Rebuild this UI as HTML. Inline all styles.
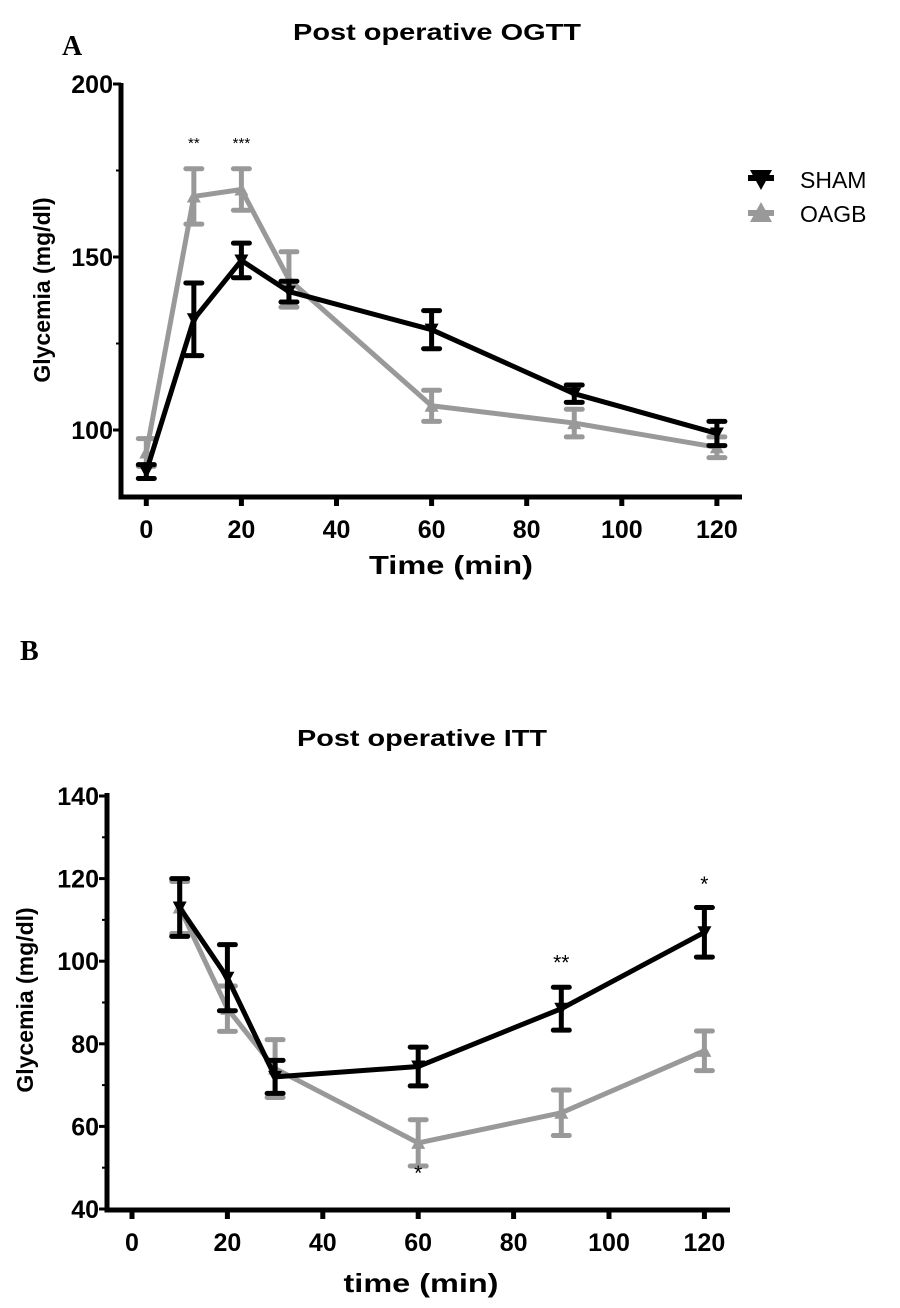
<!DOCTYPE html>
<html><head><meta charset="utf-8"><style>
body{margin:0;background:#fff;}
svg{display:block;font-family:"Liberation Sans",Arial,sans-serif;}
.tk{font-size:25px;font-weight:bold;text-anchor:middle;}
</style></head><body>
<svg id="s" width="900" height="1308" viewBox="0 0 900 1308">
<text x="62" y="55" font-family="Liberation Serif,serif" font-weight="bold" font-size="28">A</text>
<text x="437" y="40" text-anchor="middle" font-weight="bold" font-size="23" textLength="288" lengthAdjust="spacingAndGlyphs">Post operative OGTT</text>
<text x="20" y="660" font-family="Liberation Serif,serif" font-weight="bold" font-size="28">B</text>
<text x="422" y="746" text-anchor="middle" font-weight="bold" font-size="23" textLength="250" lengthAdjust="spacingAndGlyphs">Post operative ITT</text>
<text transform="translate(50,290) rotate(-90)" text-anchor="middle" font-weight="bold" font-size="23">Glycemia (mg/dl)</text>
<text transform="translate(33,1000) rotate(-90)" text-anchor="middle" font-weight="bold" font-size="23">Glycemia (mg/dl)</text>
<text x="451" y="574" text-anchor="middle" font-weight="bold" font-size="26" textLength="164" lengthAdjust="spacingAndGlyphs">Time (min)</text>
<text x="421" y="1292" text-anchor="middle" font-weight="bold" font-size="26" textLength="155" lengthAdjust="spacingAndGlyphs">time (min)</text>
<g>
<polygon points="750,170 772,170 761,190" fill="#000"/>
<line x1="748" y1="178" x2="774" y2="178" stroke="#000" stroke-width="6"/>
<text x="800" y="188" font-size="23">SHAM</text>
<polygon points="750,222 772,222 761,202" fill="#999"/>
<line x1="748" y1="213" x2="774" y2="213" stroke="#999" stroke-width="6"/>
<text x="800" y="222" font-size="23">OAGB</text>
</g>
</svg>
<script>
const xA=[0,10,20,30,60,90,120];
const shamA=[88,132,149,140,129,110.5,99];
const shamAerr=[2,10.5,5,3,5.5,2.5,3.5];
const oagbA=[93.5,167.5,169.5,143.5,107,102,95];
const oagbAerr=[4,8,6,8,4.5,4,3];
const yTicksA=[100,150,200];
const xTicks=[0,20,40,60,80,100,120];
const xB=[10,20,30,60,90,120];
const shamB=[113,96,72,74.5,88.5,107];
const shamBerr=[7,8,4,4.7,5.2,6];
const oagbB=[113,88.5,74,56,63.3,78.3];
const oagbBerr=[6.3,5.5,7,5.6,5.5,4.8];
const yTicksB=[40,60,80,100,120,140];
const starsA=[{x:10,t:"**"},{x:20,t:"***"}];
const starsB=[{x:120,v:117,t:"*"},{x:90,v:98,t:"**"},{x:60,v:47,t:"*"}];

const S=document.getElementById('s'),NS="http://www.w3.org/2000/svg";
function mk(t,a,p){const e=document.createElementNS(NS,t);for(const k in a)e.setAttribute(k,a[k]);(p||S).appendChild(e);return e;}

function panel(o){
  const g=mk('g',{});
  
  
  const X=v=>o.x0+(v-0)*o.sx, Y=v=>o.y0-(v-o.ymin)*o.sy;
  const ax=mk('path',{d:`M${o.axX},${o.yTop} V${o.axY} H${o.axR}`,fill:'none',stroke:'#000','stroke-width':5},g);
  
  
  o.yt.forEach((v,i)=>{
    mk('line',{x1:o.axX-8,x2:o.axX,y1:Y(v),y2:Y(v),stroke:'#000','stroke-width':3},g);
    if(i<o.yt.length-1){const m=(v+o.yt[i+1])/2;mk('line',{x1:o.axX-5,x2:o.axX,y1:Y(m),y2:Y(m),stroke:'#000','stroke-width':2},g);}
    const t=mk('text',{x:o.axX-8,y:Y(v)+9,'class':'tk'},g);t.style.textAnchor='end';t.textContent=v;
    
    
  });
  xTicks.forEach(v=>{
    mk('line',{x1:X(v),x2:X(v),y1:o.axY,y2:o.axY+9,stroke:'#000','stroke-width':5},g);
    const t=mk('text',{x:X(v),y:o.axY+41,'class':'tk'},g);t.textContent=v;
    
    
  });
  o.series.forEach(s=>{
    const sg=mk('g',{},g);
    
    
    s.v.forEach((v,i)=>{
      const x=X(s.x[i]),t=Y(v+s.e[i]),b=Y(v-s.e[i]);
      mk('path',{d:`M${x},${t}V${b}M${x-8},${t}H${x+8}M${x-8},${b}H${x+8}`,stroke:s.c,'stroke-width':5,fill:'none','stroke-linecap':'round'},sg);
    });
    const ln=mk('polyline',{points:s.v.map((v,i)=>X(s.x[i])+','+Y(v)).join(' '),fill:'none',stroke:s.c,'stroke-width':5,'stroke-linejoin':'round'},sg);
    
    
    s.v.forEach((v,i)=>{
      const x=X(s.x[i]),y=Y(v);
      const pts=s.down?`${x-7},${y-6} ${x+7},${y-6} ${x},${y+7}`:`${x-7},${y+6} ${x+7},${y+6} ${x},${y-7}`;
      const p=mk('polygon',{points:pts,fill:s.c},sg);
      
      
    });
  });
  o.stars.forEach(st=>{
    const t=mk('text',{x:X(st.x),y:st.v!==undefined?Y(st.v):o.starY,'text-anchor':'middle','font-size':st.big?21:15},g);
    t.textContent=st.t;
    
    
  });
}
panel({name:'ogtt-chart',x0:146.3,sx:4.755,y0:430,sy:3.46,ymin:100,axX:121,axY:497,axR:742,yTop:83,yt:yTicksA,starY:148,
  stars:starsA,
  series:[{name:'sham-series',x:xA,v:shamA,e:shamAerr,c:'#000',down:true},{name:'oagb-series',x:xA,v:oagbA,e:oagbAerr,c:'#999',down:false}].reverse()});
panel({name:'itt-chart',x0:132,sx:4.77,y0:1209,sy:4.13,ymin:40,axX:107,axY:1210,axR:730,yTop:793,yt:yTicksB,
  stars:starsB.map(s=>Object.assign({big:true},s)),
  series:[{name:'oagb-series',x:xB,v:oagbB,e:oagbBerr,c:'#999',down:false},{name:'sham-series',x:xB,v:shamB,e:shamBerr,c:'#000',down:true}]});
</script>
</body></html>
